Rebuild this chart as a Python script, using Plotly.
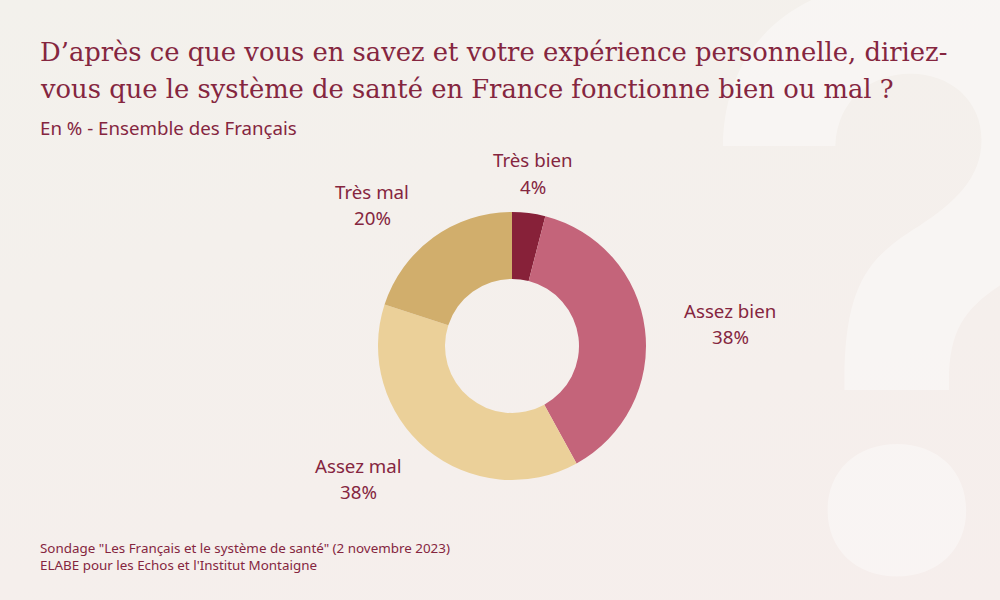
import plotly.graph_objects as go

labels = ["Très bien", "Assez bien", "Assez mal", "Très mal"]
values = [4, 38, 38, 20]
colors = ["#872139", "#C4647A", "#EBD099", "#D1AE6C"]

# centre des étiquettes en pixels (haut de page = 0)
label_x = [533, 730, 358, 372]
label_y = [160, 310, 466, 191]

title_lines = [
    "D’après ce que vous en savez et votre expérience personnelle, diriez-",
    "vous que le système de santé en France fonctionne bien ou mal ?",
]
subtitle = "En % - Ensemble des Français"
source_lines = [
    'Sondage "Les Français et le système de santé" (2 novembre 2023)',
    "ELABE pour les Echos et l'Institut Montaigne",
]

text_color = "#85263F"
sans = "Noto Sans"
serif = "DejaVu Serif"
W, H = 1000, 600


def add_text(fig, text, px, py, size, family=sans, xanchor="left"):
    fig.add_annotation(
        text=text, x=px / W, y=1 - py / H, xref="paper", yref="paper",
        xanchor=xanchor, yanchor="middle", showarrow=False,
        borderpad=0, borderwidth=0,
        font=dict(family=family, size=size, color=text_color),
    )


fig = go.Figure()

fig.add_trace(go.Pie(
    labels=labels,
    values=values,
    hole=0.5,
    sort=False,
    direction="clockwise",
    rotation=0,
    marker=dict(colors=colors, line=dict(width=0)),
    textinfo="none",
    domain=dict(x=[0.378, 0.646], y=[0.2, 0.6467]),
    showlegend=False,
))

# point d'interrogation en filigrane
fig.add_annotation(
    text="<b>?</b>", x=0.916, y=0.537, xref="paper", yref="paper", showarrow=False,
    xanchor="center", yanchor="middle",
    font=dict(family="Inter", size=800, color="rgba(255,255,255,0.36)"),
)

add_text(fig, title_lines[0], 40, 52, 25.8, family=serif)
add_text(fig, title_lines[1], 40, 89, 25.8, family=serif)
add_text(fig, subtitle, 40, 127, 18.7)
add_text(fig, source_lines[0], 40, 548, 13.4)
add_text(fig, source_lines[1], 40, 565, 13.4)

for name, v, lx, ly in zip(labels, values, label_x, label_y):
    add_text(fig, name, lx, ly, 18.7, xanchor="center")
    add_text(fig, f"{v}%", lx, ly + 26, 18.7, xanchor="center")

fig.update_layout(
    width=W, height=H,
    margin=dict(l=0, r=0, t=0, b=0),
    paper_bgcolor="rgba(0,0,0,0)",
    plot_bgcolor="rgba(0,0,0,0)",
)

page_style = """
document.body.style.margin = '0';
document.documentElement.style.height = '100%';
document.documentElement.style.overflow = 'hidden';
document.documentElement.style.background = 'linear-gradient(165deg, #F3F1EC 0%, #F4F0EC 35%, #F6EEEC 100%)';
"""
fig.write_html("out.html", post_script=page_style, config=dict(displayModeBar=False))
